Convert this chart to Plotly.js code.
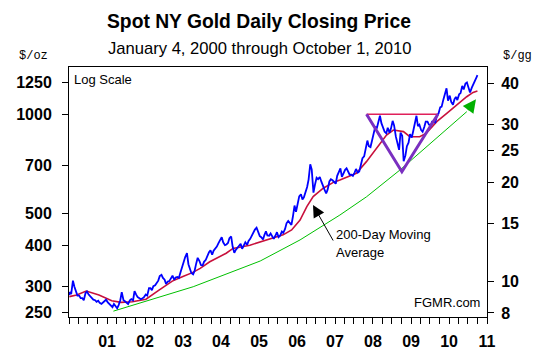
<!DOCTYPE html>
<html><head><meta charset="utf-8">
<script src="https://cdn.plot.ly/plotly-3.0.1.min.js"></script>
<style>html,body{margin:0;padding:0;background:#fff}#chart{width:541px;height:363px}</style>
</head><body><div id="chart"></div>
<script>
// ---- Data ----
// Gold price, $/oz, two readings per month (early, late), Jan 2000 - Sep 2010
const gold2000 = [288,284,312,299,288,281,281,276,276,272,286,289,283,280,276,273,272,269,271,267,265,267,270,273];
const gold2001 = [268,265,263,259,265,262,257,263,272,288,272,270,267,265,272,274,272,290,283,278,276,274,276,278];
const gold2002 = [283,281,296,296,292,300,302,308,312,322,325,318,314,305,310,311,318,323,314,319,320,318,331,345];
const gold2003 = [356,368,378,350,337,329,326,334,352,366,358,348,347,356,361,372,381,386,374,385,390,396,406,414];
const gold2004 = [423,408,400,402,406,420,425,396,379,387,392,399,404,390,398,408,401,412,418,428,435,446,452,440];
const gold2005 = [426,423,416,430,441,428,427,434,425,418,428,438,423,427,440,436,448,466,474,468,461,488,528,505];
const gold2006 = [541,563,571,551,559,576,601,633,705,680,578,610,641,635,645,625,600,590,575,590,625,635,630,625];
const gold2007 = [615,650,665,685,645,660,678,685,665,655,655,650,665,682,665,670,705,735,745,780,832,800,795,830];
const gold2008 = [880,915,910,945,990,940,915,885,875,910,880,905,955,925,855,825,780,880,860,720,750,800,820,870];
const gold2009 = [850,890,940,990,920,930,895,885,915,950,950,930,925,950,950,945,995,1005,1050,1055,1110,1165,1200,1100];
const gold2010 = [1140,1090,1070,1110,1130,1105,1150,1160,1220,1190,1240,1250,1200,1165,1205,1230,1255,1295];
const goldFirst = {date:'2000-01-04', price:282};
const goldLast = {date:'2010-10-01', price:1315};

// 200-day moving average, $/oz
const maDates = ['2000-01-04','2000-03-15','2000-06-15','2000-10-15','2001-02-15','2001-05-15','2001-09-01','2002-01-10','2002-05-15','2002-09-20','2002-12-31','2003-04-01','2003-06-15','2003-09-15','2004-02-20','2004-04-25','2004-10-05','2005-03-15','2005-08-20','2005-11-10','2006-01-30','2006-04-05','2006-06-05','2006-09-10','2006-12-20','2007-02-17','2007-07-25','2007-10-30','2008-02-05','2008-05-10','2008-07-15','2008-09-10','2008-10-20','2008-12-20','2009-03-25','2009-05-28','2009-09-05','2009-12-10','2010-03-15','2010-06-20','2010-08-20','2010-10-01'];
const maValues = [279,282,290,282,271,268,269,274,292,311,321,330,340,356,378,391,400,415,430,445,477,524,562,596,622,631,662,718,788,865,896,892,886,855,855,876,950,1007,1067,1131,1166,1178];

// Green trend line, $/oz
const trendDates = ['2001-03-03','2002-02-10','2003-04-09','2005-01-12','2006-01-30','2007-02-17','2007-10-30','2008-09-16','2009-07-31','2010-06-21'];
const trendValues = [252,272.5,299,358,415,494,561,677,829,1019];
const trendTip = {date:'2010-09-17', value:1111};

// Triangle pattern
const triDates = ['2007-10-31','2008-10-05','2009-09-16'];
const triValues = [1000,669,1000];
const topLineDates = ['2007-10-31','2009-09-16'];
const topLineValues = [1000,1000];

// Axis ticks / labels
const yearLabels = ['01','02','03','04','05','06','07','08','09','10','11'];
const ozTicks = [250,300,400,500,700,1000,1250];
const ggTicks = [8,10,15,20,25,30,40];
const OZ_PER_GRAM = 31.1035;

// ---- Build series ----
const goldYears = [gold2000,gold2001,gold2002,gold2003,gold2004,gold2005,gold2006,gold2007,gold2008,gold2009,gold2010];
const goldX = [goldFirst.date], goldY = [goldFirst.price];
goldYears.forEach((arr, yi) => {
  const yr = 2000 + yi;
  arr.forEach((v, i) => {
    const m = Math.floor(i/2) + 1;
    const d = (i % 2 === 0) ? 8 : 22;
    goldX.push(yr + '-' + String(m).padStart(2,'0') + '-' + d);
    goldY.push(v);
  });
});
goldX.push(goldLast.date); goldY.push(goldLast.price);

const xTickVals = [], xTickText = [];
for (let y = 2000; y <= 2011; y++) {
  for (let q = 0; q < 4; q++) {
    if (y === 2011 && q > 0) break;
    xTickVals.push(y + '-' + String(q*3+1).padStart(2,'0') + '-01');
    xTickText.push(q === 0 && y > 2000 ? yearLabels[y-2001] : '');
  }
}

const FONT = 'Liberation Sans, Arial, sans-serif';
const yRange = [2.3836, 3.1439];
const y2Range = yRange.map(v => v - Math.log10(OZ_PER_GRAM));

const traces = [
  {x: trendDates, y: trendValues, type:'scatter', mode:'lines', line:{color:'#00C000', width:1}, hoverinfo:'skip'},
  {x: maDates, y: maValues, type:'scatter', mode:'lines', line:{color:'#C8103C', width:1.6}, hoverinfo:'skip'},
  {x: goldX, y: goldY, type:'scatter', mode:'lines', line:{color:'#0000FF', width:1.8}, hoverinfo:'skip'},
  {x: topLineDates, y: topLineValues, type:'scatter', mode:'lines', line:{color:'#E0205A', width:1.5}, hoverinfo:'skip'},
  {x: triDates, y: triValues, type:'scatter', mode:'lines', line:{color:'#7A2FC0', width:3}, hoverinfo:'skip'},
  {x: [], y: [], type:'scatter', yaxis:'y2', hoverinfo:'skip'}
];

const tickFont = {family: FONT, size: 16, color:'#000', weight: 700};
const layout = {
  width:541, height:363,
  margin:{l:69, r:54, t:67, b:46, pad:0},
  paper_bgcolor:'#fff', plot_bgcolor:'#fff', showlegend:false,
  xaxis:{type:'date', range:['2000-01-01','2011-01-01'], tickmode:'array', tickvals:xTickVals, ticktext:xTickText,
    ticks:'outside', ticklen:6, tickwidth:1, tickcolor:'#000', showline:true, linecolor:'#000', linewidth:1, mirror:true,
    showgrid:false, zeroline:false, tickfont:tickFont, ticklabelstandoff:4, fixedrange:true},
  yaxis:{type:'log', range:yRange, tickmode:'array', tickvals:ozTicks, ticktext:ozTicks.map(String),
    ticks:'outside', ticklen:6, tickwidth:1, tickcolor:'#000', showline:true, linecolor:'#000', linewidth:1,
    showgrid:false, zeroline:false, tickfont:tickFont, ticklabelstandoff:7, fixedrange:true},
  yaxis2:{type:'log', overlaying:'y', side:'right', range:y2Range, tickmode:'array', tickvals:ggTicks, ticktext:ggTicks.map(String),
    ticks:'outside', ticklen:6, tickwidth:1, tickcolor:'#000', showline:true, linecolor:'#000', linewidth:1,
    showgrid:false, zeroline:false, tickfont:tickFont, ticklabelstandoff:4, fixedrange:true},
  annotations:[
    {xref:'paper', yref:'paper', x:(259-69)/418, y:(317-21)/250, text:'<b>Spot NY Gold Daily Closing Price</b>', showarrow:false,
      xanchor:'center', yanchor:'middle', font:{family:FONT, size:19.3, color:'#000'}},
    {xref:'paper', yref:'paper', x:(260-69)/418, y:(317-49)/250, text:'January 4, 2000 through October 1, 2010', showarrow:false,
      xanchor:'center', yanchor:'middle', font:{family:FONT, size:16.6, color:'#000'}},
    {xref:'paper', yref:'paper', x:(33-69)/418, y:(317-56)/250, text:'$/oz', showarrow:false,
      xanchor:'center', yanchor:'middle', font:{family:'Liberation Mono, monospace', size:12, color:'#000'}},
    {xref:'paper', yref:'paper', x:(517-69)/418, y:(317-56)/250, text:'$/gg', showarrow:false,
      xanchor:'center', yanchor:'middle', font:{family:'Liberation Mono, monospace', size:12, color:'#000'}},
    {xref:'paper', yref:'paper', x:(72-69)/418, y:(317-79)/250, text:'Log Scale', showarrow:false,
      xanchor:'left', yanchor:'middle', font:{family:FONT, size:13, color:'#000'}},
    {xref:'paper', yref:'paper', x:(482-69)/418, y:(317-302)/250, text:'FGMR.com', showarrow:false,
      xanchor:'right', yanchor:'middle', font:{family:FONT, size:13, color:'#000'}},
    {xref:'paper', yref:'paper', x:(334-69)/418, y:(317-235)/250, text:'200-Day Moving', showarrow:false,
      xanchor:'left', yanchor:'middle', font:{family:FONT, size:13, color:'#000'}},
    {xref:'paper', yref:'paper', x:(334-69)/418, y:(317-252)/250, text:'Average', showarrow:false,
      xanchor:'left', yanchor:'middle', font:{family:FONT, size:13, color:'#000'}},
    {xref:'paper', yref:'paper', x:(313-69)/418, y:(317-205)/250, text:'', showarrow:true, ax:21, ay:37,
      arrowhead:2, arrowsize:2.4, arrowwidth:1, arrowcolor:'#000', standoff:0},
    {xref:'x', yref:'y', axref:'x', ayref:'y', x:trendTip.date, y:Math.log10(trendTip.value),
      ax:trendDates[trendDates.length-1], ay:Math.log10(trendValues[trendValues.length-1]), text:'', showarrow:true,
      arrowhead:2, arrowsize:2.2, arrowwidth:1.2, arrowcolor:'#00B000', standoff:0}
  ]
};
Plotly.newPlot('chart', traces, layout, {staticPlot:true, displayModeBar:false});
</script></body></html>
